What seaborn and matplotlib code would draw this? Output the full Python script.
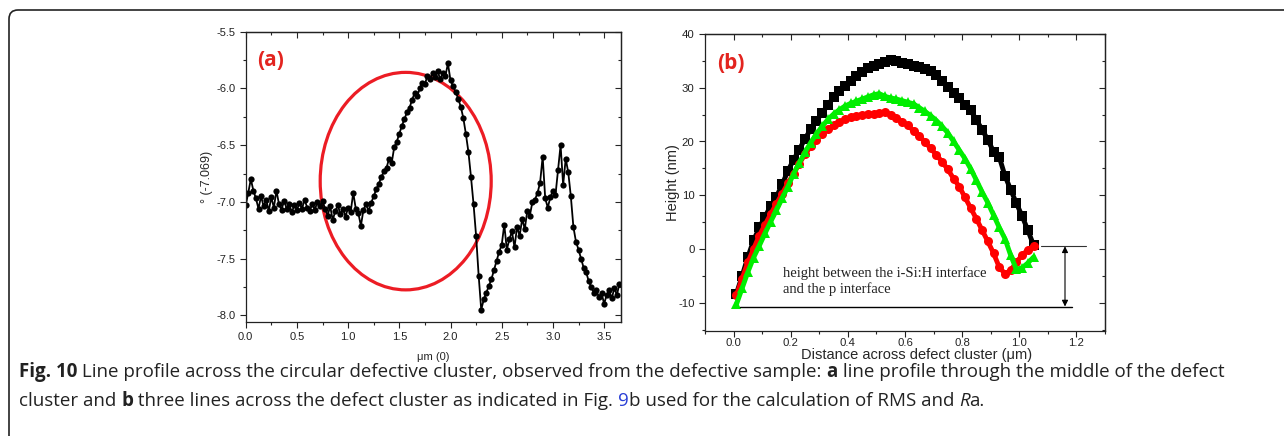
import matplotlib
matplotlib.use('Agg')
import matplotlib.pyplot as plt
import numpy as np
import pandas as pd
import seaborn as sns
from matplotlib.patches import Ellipse, FancyBboxPatch
from matplotlib.ticker import MultipleLocator
from matplotlib.transforms import IdentityTransform

# %% panel (a): line profile through the middle of the defect cluster
profile_um = np.arange(147) * 0.025
profile_deg = [
    -7.03, -6.92, -6.80, -6.90, -6.97, -7.06, -6.95, -7.04, -6.98, -7.08,
    -6.96, -7.05, -6.90, -7.02, -7.07, -6.99, -7.06, -7.02, -7.09, -7.03,
    -7.07, -7.01, -7.06, -6.98, -7.05, -7.08, -7.02, -7.07, -7.00, -7.04,
    -6.99, -7.06, -7.12, -7.04, -7.16, -7.08, -7.03, -7.11, -7.06, -7.13,
    -7.05, -7.09, -6.92, -7.06, -7.10, -7.21, -7.07, -7.02, -7.08, -7.01,
    -6.95, -6.89, -6.84, -6.78, -6.73, -6.70, -6.62, -6.66, -6.52, -6.47,
    -6.40, -6.33, -6.27, -6.21, -6.17, -6.10, -6.04, -6.07, -6.00, -5.95,
    -5.96, -5.89, -5.92, -5.86, -5.90, -5.85, -5.92, -5.86, -5.89, -5.78,
    -5.93, -5.98, -6.03, -6.09, -6.16, -6.26, -6.40, -6.56, -6.78, -7.02,
    -7.30, -7.65, -7.95, -7.86, -7.80, -7.74, -7.68, -7.60, -7.52, -7.44,
    -7.38, -7.20, -7.42, -7.33, -7.26, -7.40, -7.22, -7.30, -7.15, -7.24,
    -7.08, -7.12, -7.00, -6.98, -6.92, -6.83, -6.60, -6.97, -7.05, -6.96,
    -6.90, -6.94, -6.72, -6.50, -6.85, -6.62, -6.74, -6.95, -7.22, -7.35,
    -7.42, -7.50, -7.58, -7.62, -7.70, -7.75, -7.80, -7.78, -7.84, -7.80,
    -7.90, -7.82, -7.78, -7.85, -7.76, -7.82, -7.72,
]

# %% panel (b): three lines across the defect cluster
dist_um = np.round(0.01 + np.arange(53) * 0.02, 2)
height_black = [
    -8.3, -5.0, -1.5, 1.6, 4.0, 6.0, 8.0, 9.7, 12.0, 14.5,
    16.6, 18.5, 20.5, 22.3, 23.9, 25.3, 26.8, 28.2, 29.4, 30.4,
    31.3, 32.2, 33.0, 33.6, 34.0, 34.4, 34.8, 35.1, 34.9, 34.6,
    34.5, 34.1, 33.8, 33.4, 33.1, 32.3, 31.2, 30.1, 29.1, 28.0,
    26.8, 25.8, 24.0, 22.2, 20.3, 18.1, 17.1, 13.6, 11.0, 8.5,
    6.1, 3.5, 0.7,
]
height_red = [
    -8.6, -5.5, -2.5, 0.0, 2.5, 4.5, 6.5, 8.4, 10.3, 12.2,
    14.0, 15.9, 17.6, 19.1, 20.3, 21.4, 22.3, 23.0, 23.6, 24.1,
    24.5, 24.8, 25.0, 25.1, 25.2, 25.3, 25.5, 25.0, 24.4, 23.7,
    23.0, 22.0, 21.0, 19.9, 18.7, 17.5, 16.2, 14.8, 13.1, 11.6,
    9.6, 7.6, 5.6, 3.5, 1.4, -0.8, -3.4, -4.6, -4.0, -2.4,
    -1.2, -0.1, 0.5,
]
height_green = [
    -10.3, -7.3, -4.3, -1.6, 0.6, 2.9, 5.1, 7.2, 9.4, 11.6,
    14.0, 16.0, 18.0, 19.8, 21.4, 22.8, 24.1, 25.1, 25.9, 26.6,
    27.1, 27.5, 27.9, 28.3, 28.7, 28.9, 28.4, 28.1, 27.9, 27.6,
    27.3, 27.0, 26.3, 25.6, 24.8, 23.9, 22.8, 21.6, 20.0, 18.4,
    16.8, 14.9, 12.8, 10.6, 8.6, 6.3, 4.0, 1.9, -1.2, -3.8,
    -3.5, -2.6, -1.5,
]
line_names = ['black', 'red', 'green']

df_b = pd.DataFrame({
    'dist': np.tile(dist_um, 3),
    'height': height_black + height_red + height_green,
    'line': np.repeat(line_names, len(dist_um)),
})

sns.set_style('white')
plt.rcParams['font.family'] = ['Liberation Sans', 'DejaVu Sans']
plt.rcParams['axes.linewidth'] = 0.9
plt.rcParams['axes.unicode_minus'] = False

W, H = 1284, 436
fig = plt.figure(figsize=(W / 100, H / 100), dpi=100)


def px_axes(left, top, right, bottom):
    return fig.add_axes([left / W, 1 - bottom / H, (right - left) / W, (bottom - top) / H])


def origin_ticks(ax, xmaj, xmin, ymaj, ymin, size, xpad=3.5):
    ax.xaxis.set_major_locator(MultipleLocator(xmaj))
    ax.xaxis.set_minor_locator(MultipleLocator(xmin))
    ax.yaxis.set_major_locator(MultipleLocator(ymaj))
    ax.yaxis.set_minor_locator(MultipleLocator(ymin))
    ax.tick_params(which='both', direction='out', bottom=True, left=True, width=0.8,
                   labelsize=size, colors='#222222')
    ax.tick_params(axis='x', pad=xpad)
    ax.tick_params(which='major', length=4)
    ax.tick_params(which='minor', length=2.5)
    for side, axis in (('top', 'x'), ('right', 'y')):
        sec = ax.secondary_xaxis('top') if side == 'top' else ax.secondary_yaxis('right')
        a = sec.xaxis if side == 'top' else sec.yaxis
        a.set_major_locator(MultipleLocator(xmaj if axis == 'x' else ymaj))
        a.set_minor_locator(MultipleLocator(xmin if axis == 'x' else ymin))
        sec.tick_params(which='both', direction='in', width=0.8, labeltop=False, labelright=False)
        sec.tick_params(which='major', length=4)
        sec.tick_params(which='minor', length=2.5)
    for sp in ax.spines.values():
        sp.set_color('#222222')


# %% (a)
ax_a = px_axes(245.7, 31.7, 621, 321.7)
sns.lineplot(x=profile_um, y=profile_deg, ax=ax_a, color='k', lw=1.3, marker='o',
             markersize=4.5, markeredgewidth=0, sort=False, errorbar=None)
ax_a.set_xlim(0, 3.665)
ax_a.set_ylim(-8.056, -5.5)
origin_ticks(ax_a, 0.5, 0.25, 0.5, 0.25, 8)
ax_a.set_xlabel('μm (0)', fontsize=8)
ax_a.xaxis.set_label_coords(0.5, -0.105)
ax_a.set_ylabel('° (-7.069)', fontsize=9)
ax_a.yaxis.set_label_coords(-0.088, 0.5)
ax_a.add_patch(Ellipse((1.5625, -6.817), width=1.67, height=1.917, fill=False,
                       ec='#ec1c24', lw=2.3))
ax_a.text(0.03, 0.9, '(a)', transform=ax_a.transAxes, color='#e3241f', fontsize=15,
          fontweight='bold', family=['Open Sans', 'DejaVu Sans'], va='center')

# %% (b)
ax_b = px_axes(705, 34, 1105, 330.7)
sns.lineplot(data=df_b, x='dist', y='height', hue='line', style='line', ax=ax_b,
             palette={'black': '#000000', 'red': '#ff0000', 'green': '#00ee00'},
             markers={'black': 's', 'red': 'o', 'green': '^'}, dashes=False,
             markersize=6.5, markeredgewidth=0, lw=3.5, legend=False, sort=False,
             errorbar=None)
ax_b.set_xlim(-0.1, 1.3)
ax_b.set_ylim(-15.2, 40)
origin_ticks(ax_b, 0.2, 0.1, 10, 5, 8.2, xpad=1.5)
ax_b.set_xlabel('Distance across defect cluster (μm)', fontsize=10.5)
ax_b.xaxis.set_label_coords(0.53, -0.058)
ax_b.set_ylabel('Height (nm)', fontsize=10.5)
ax_b.yaxis.set_label_coords(-0.062, 0.5)
ax_b.text(0.03, 0.9, '(b)', transform=ax_b.transAxes, color='#e3241f', fontsize=15,
          fontweight='bold', family=['Open Sans', 'DejaVu Sans'], va='center')

# interface-height annotation
ax_b.plot([0.023, 1.184], [-10.7, -10.7], color='k', lw=1.0)
ax_b.plot([1.076, 1.235], [0.5, 0.5], color='#333333', lw=0.8)
ax_b.annotate('', xy=(1.16, -10.7), xytext=(1.16, 0.5),
              arrowprops=dict(arrowstyle='<|-|>', color='k', lw=0.8, mutation_scale=9,
                              shrinkA=0, shrinkB=0))
ax_b.text(0.172, -6.0, 'height between the i-Si:H interface\nand the p interface',
          family=['Liberation Serif', 'DejaVu Serif'], fontsize=10.5, color='#222222',
          va='center', linespacing=1.25)

# %% frame and caption
fig.patches.append(FancyBboxPatch((9, -30), 1400, 436 - 10 + 30,
                                  boxstyle='round,pad=0,rounding_size=9',
                                  transform=IdentityTransform(), fill=False,
                                  ec='#222222', lw=1.2, figure=fig))

cap_font = ['Open Sans', 'DejaVu Sans']
cap_size = 13.5
cap_lines = [
    [('Fig. 10', dict(fontweight='bold')),
     (' Line profile across the circular defective cluster, observed from the defective sample: ', {}),
     ('a', dict(fontweight='bold')),
     (' line profile through the middle of the defect', {})],
    [('cluster and ', {}),
     ('b', dict(fontweight='bold')),
     (' three lines across the defect cluster as indicated in Fig. ', {}),
     ('9', dict(color='#2a3fd6')),
     ('b used for the calculation of RMS and ', {}),
     ('R', dict(fontstyle='italic')),
     ('a.', {})],
]
cap_baselines = [377, 406]

renderer = fig.canvas.get_renderer()
for pieces, base in zip(cap_lines, cap_baselines):
    x = 19
    for txt, kw in pieces:
        style = dict(color='#222222', fontsize=cap_size, family=cap_font)
        style.update(kw)
        t = fig.text(x, H - base, txt, transform=IdentityTransform(), va='baseline', **style)
        x += t.get_window_extent(renderer).width

fig.savefig('out.png', dpi=100)
